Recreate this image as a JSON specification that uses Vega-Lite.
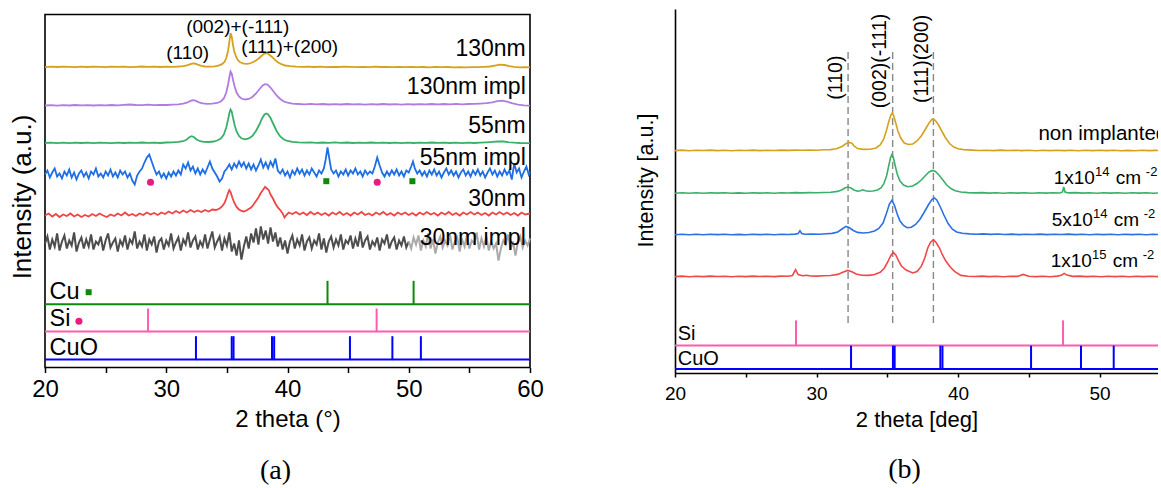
{
"$schema":"https://vega.github.io/schema/vega-lite/v6.json",
"padding":{"left":8,"top":9,"right":0,"bottom":0},
"background":"white",
"config":{"font":"Liberation Sans","view":{"stroke":"#000","strokeWidth":1.6},"axis":{"grid":false,"domainColor":"#000","tickColor":"#000","labelColor":"#000","titleColor":"#000","labelFont":"Liberation Sans","titleFont":"Liberation Sans","titleFontWeight":"normal","domainWidth":1.6,"tickWidth":1.5},"text":{"font":"Liberation Sans","color":"#000"}},
"bounds":"flush","center":true,"spacing":145,
"datasets":{
"a130":[{"x":20,"y":300.4},{"x":20.5,"y":300.8},{"x":21,"y":300.5},{"x":21.5,"y":300.9},{"x":22,"y":300.6},{"x":22.5,"y":300.3},{"x":23,"y":300.8},{"x":23.5,"y":300.5},{"x":24,"y":300.9},{"x":24.5,"y":300.6},{"x":25,"y":300.4},{"x":25.5,"y":300.9},{"x":26,"y":300.6},{"x":26.5,"y":300.8},{"x":27,"y":300.4},{"x":27.5,"y":300.7},{"x":28,"y":301.0},{"x":28.5,"y":300.6},{"x":29,"y":300.8},{"x":29.5,"y":300.5},{"x":30,"y":300.9},{"x":30.5,"y":300.7},{"x":31,"y":301.0},{"x":31.4,"y":301.4},{"x":31.7,"y":302.2},{"x":32.0,"y":303.4},{"x":32.2,"y":304.0},{"x":32.4,"y":303.8},{"x":32.6,"y":302.8},{"x":32.9,"y":301.6},{"x":33.2,"y":301.0},{"x":33.6,"y":300.9},{"x":34.0,"y":301.2},{"x":34.3,"y":301.9},{"x":34.6,"y":303.4},{"x":34.8,"y":305.5},{"x":34.95,"y":309.5},{"x":35.1,"y":317},{"x":35.2,"y":325},{"x":35.3,"y":334.5},{"x":35.4,"y":331},{"x":35.5,"y":323},{"x":35.6,"y":316.5},{"x":35.75,"y":311},{"x":35.9,"y":307.5},{"x":36.1,"y":305.2},{"x":36.4,"y":303.8},{"x":36.7,"y":303.6},{"x":37.0,"y":304.5},{"x":37.3,"y":306.2},{"x":37.6,"y":308.8},{"x":37.85,"y":311.5},{"x":38.05,"y":313.6},{"x":38.25,"y":314.3},{"x":38.45,"y":313.3},{"x":38.7,"y":310.8},{"x":38.95,"y":307.8},{"x":39.2,"y":305.3},{"x":39.5,"y":303.3},{"x":39.8,"y":302.0},{"x":40.2,"y":301.3},{"x":40.7,"y":300.8},{"x":41.2,"y":300.6},{"x":41.7,"y":300.9},{"x":42.2,"y":300.5},{"x":42.7,"y":300.8},{"x":43.2,"y":300.4},{"x":43.7,"y":300.7},{"x":44.2,"y":300.5},{"x":44.7,"y":300.9},{"x":45.2,"y":300.6},{"x":45.7,"y":300.3},{"x":46.2,"y":300.7},{"x":46.7,"y":300.4},{"x":47.2,"y":300.8},{"x":47.7,"y":300.5},{"x":48.2,"y":300.6},{"x":48.7,"y":300.3},{"x":49.2,"y":300.7},{"x":49.7,"y":300.4},{"x":50.2,"y":300.6},{"x":50.7,"y":300.3},{"x":51.2,"y":300.5},{"x":51.7,"y":300.2},{"x":52.2,"y":300.6},{"x":52.7,"y":300.3},{"x":53.2,"y":300.5},{"x":53.7,"y":300.2},{"x":54.2,"y":300.4},{"x":54.7,"y":300.1},{"x":55.2,"y":300.4},{"x":55.7,"y":300.3},{"x":56.2,"y":300.6},{"x":56.7,"y":301.0},{"x":57.1,"y":301.9},{"x":57.5,"y":302.8},{"x":57.9,"y":302.5},{"x":58.3,"y":301.4},{"x":58.7,"y":300.6},{"x":59.2,"y":300.2},{"x":59.6,"y":300.4},{"x":60,"y":300.1}],
"a130i":[{"x":20,"y":262.0},{"x":20.5,"y":262.4},{"x":21,"y":261.9},{"x":21.5,"y":262.3},{"x":22,"y":262.0},{"x":22.5,"y":262.5},{"x":23,"y":262.1},{"x":23.5,"y":262.4},{"x":24,"y":262.0},{"x":24.5,"y":262.3},{"x":25,"y":262.1},{"x":25.5,"y":262.5},{"x":26,"y":262.2},{"x":26.5,"y":262.7},{"x":27,"y":263.0},{"x":27.5,"y":262.5},{"x":28,"y":262.3},{"x":28.5,"y":262.8},{"x":29,"y":262.4},{"x":29.5,"y":262.7},{"x":30,"y":262.5},{"x":30.5,"y":262.8},{"x":31,"y":263.2},{"x":31.4,"y":263.8},{"x":31.7,"y":264.8},{"x":32.0,"y":266.6},{"x":32.2,"y":267.3},{"x":32.4,"y":266.8},{"x":32.7,"y":265.2},{"x":33.0,"y":264.1},{"x":33.4,"y":263.6},{"x":33.8,"y":263.8},{"x":34.2,"y":264.5},{"x":34.5,"y":266},{"x":34.75,"y":269},{"x":34.95,"y":275},{"x":35.1,"y":283},{"x":35.2,"y":290},{"x":35.3,"y":296},{"x":35.4,"y":294},{"x":35.5,"y":288},{"x":35.65,"y":280.5},{"x":35.8,"y":275},{"x":36.0,"y":271},{"x":36.2,"y":269},{"x":36.5,"y":268},{"x":36.8,"y":268.5},{"x":37.1,"y":270.5},{"x":37.4,"y":274},{"x":37.7,"y":278.5},{"x":37.95,"y":282},{"x":38.15,"y":283.3},{"x":38.35,"y":282.8},{"x":38.6,"y":280},{"x":38.85,"y":276},{"x":39.1,"y":272},{"x":39.4,"y":268.5},{"x":39.7,"y":266},{"x":40.0,"y":264.8},{"x":40.4,"y":263.9},{"x":40.9,"y":263.5},{"x":41.4,"y":263.2},{"x":41.9,"y":263.6},{"x":42.4,"y":263.1},{"x":42.9,"y":263.5},{"x":43.4,"y":263.0},{"x":43.9,"y":263.4},{"x":44.4,"y":263.0},{"x":44.9,"y":263.5},{"x":45.4,"y":263.1},{"x":45.9,"y":263.4},{"x":46.4,"y":262.9},{"x":46.9,"y":263.4},{"x":47.4,"y":263.0},{"x":47.9,"y":263.5},{"x":48.4,"y":263.0},{"x":48.9,"y":263.3},{"x":49.4,"y":262.9},{"x":49.9,"y":263.3},{"x":50.4,"y":263.0},{"x":50.9,"y":263.4},{"x":51.4,"y":263.1},{"x":51.9,"y":263.5},{"x":52.4,"y":263.1},{"x":52.9,"y":263.5},{"x":53.4,"y":263.2},{"x":53.9,"y":263.6},{"x":54.4,"y":263.2},{"x":54.9,"y":263.5},{"x":55.4,"y":263.6},{"x":55.9,"y":263.9},{"x":56.4,"y":264.3},{"x":56.9,"y":265.2},{"x":57.3,"y":266.4},{"x":57.7,"y":266.8},{"x":58.1,"y":265.8},{"x":58.5,"y":264.3},{"x":59.0,"y":262.9},{"x":59.5,"y":262.2},{"x":60,"y":261.9}],
"a55":[{"x":20,"y":224.5},{"x":20.5,"y":224.9},{"x":21,"y":224.4},{"x":21.5,"y":224.8},{"x":22,"y":224.3},{"x":22.5,"y":224.9},{"x":23,"y":224.5},{"x":23.5,"y":224.8},{"x":24,"y":224.4},{"x":24.5,"y":224.9},{"x":25,"y":224.6},{"x":25.5,"y":224.3},{"x":26,"y":224.8},{"x":26.5,"y":224.5},{"x":27,"y":224.9},{"x":27.5,"y":224.6},{"x":28,"y":225.0},{"x":28.5,"y":224.6},{"x":29,"y":224.9},{"x":29.5,"y":224.5},{"x":30,"y":225.0},{"x":30.5,"y":225.2},{"x":31,"y":225.6},{"x":31.4,"y":226.3},{"x":31.7,"y":228},{"x":31.9,"y":230.3},{"x":32.1,"y":231.3},{"x":32.3,"y":230.2},{"x":32.5,"y":228},{"x":32.8,"y":226.3},{"x":33.1,"y":225.6},{"x":33.5,"y":225.5},{"x":33.9,"y":226.0},{"x":34.2,"y":227},{"x":34.5,"y":229},{"x":34.75,"y":233},{"x":34.95,"y":240},{"x":35.1,"y":248},{"x":35.2,"y":254},{"x":35.3,"y":258},{"x":35.4,"y":256},{"x":35.5,"y":250},{"x":35.65,"y":242},{"x":35.8,"y":236},{"x":36.0,"y":231.5},{"x":36.2,"y":229.2},{"x":36.5,"y":228.2},{"x":36.8,"y":229},{"x":37.1,"y":231.5},{"x":37.4,"y":236.5},{"x":37.7,"y":243.5},{"x":37.9,"y":249},{"x":38.1,"y":253},{"x":38.25,"y":254},{"x":38.4,"y":253},{"x":38.6,"y":249.5},{"x":38.85,"y":243},{"x":39.1,"y":236.5},{"x":39.4,"y":231},{"x":39.7,"y":228},{"x":40.0,"y":226.5},{"x":40.4,"y":225.6},{"x":40.9,"y":225.1},{"x":41.4,"y":224.8},{"x":41.9,"y":225.2},{"x":42.4,"y":224.7},{"x":42.9,"y":225.0},{"x":43.4,"y":224.6},{"x":43.9,"y":225.1},{"x":44.4,"y":224.7},{"x":44.9,"y":225.0},{"x":45.4,"y":224.5},{"x":45.9,"y":224.9},{"x":46.4,"y":224.6},{"x":46.9,"y":225.0},{"x":47.4,"y":224.6},{"x":47.9,"y":224.9},{"x":48.4,"y":224.5},{"x":48.9,"y":224.8},{"x":49.4,"y":224.4},{"x":49.9,"y":224.8},{"x":50.4,"y":224.5},{"x":50.9,"y":224.9},{"x":51.4,"y":224.6},{"x":51.9,"y":225.0},{"x":52.4,"y":224.6},{"x":52.9,"y":224.9},{"x":53.4,"y":224.5},{"x":53.9,"y":224.8},{"x":54.4,"y":224.4},{"x":54.9,"y":224.8},{"x":55.4,"y":224.5},{"x":55.9,"y":224.9},{"x":56.4,"y":225.2},{"x":56.9,"y":225.6},{"x":57.4,"y":226.0},{"x":57.8,"y":226.0},{"x":58.2,"y":225.4},{"x":58.7,"y":224.8},{"x":59.2,"y":224.5},{"x":60,"y":224.3}],
"a55i":[{"x":20.0,"y":193},{"x":20.2,"y":197},{"x":20.4,"y":190},{"x":20.6,"y":195},{"x":20.8,"y":199},{"x":21.0,"y":191},{"x":21.2,"y":194},{"x":21.4,"y":189},{"x":21.6,"y":196},{"x":21.8,"y":192},{"x":22.0,"y":198},{"x":22.2,"y":190},{"x":22.4,"y":195},{"x":22.6,"y":188},{"x":22.8,"y":194},{"x":23.0,"y":197},{"x":23.2,"y":191},{"x":23.4,"y":195},{"x":23.6,"y":189},{"x":23.8,"y":196},{"x":24.0,"y":193},{"x":24.2,"y":199},{"x":24.4,"y":191},{"x":24.6,"y":194},{"x":24.8,"y":190},{"x":25.0,"y":196},{"x":25.2,"y":192},{"x":25.4,"y":198},{"x":25.6,"y":191},{"x":25.8,"y":195},{"x":26.0,"y":190},{"x":26.2,"y":197},{"x":26.4,"y":193},{"x":26.6,"y":196},{"x":26.8,"y":190},{"x":27.0,"y":194},{"x":27.2,"y":187},{"x":27.4,"y":183},{"x":27.6,"y":192},{"x":27.8,"y":196},{"x":28.0,"y":199},{"x":28.2,"y":205},{"x":28.4,"y":210},{"x":28.6,"y":213},{"x":28.8,"y":206},{"x":29.0,"y":199},{"x":29.2,"y":193},{"x":29.4,"y":196},{"x":29.6,"y":190},{"x":29.8,"y":194},{"x":30.0,"y":189},{"x":30.2,"y":195},{"x":30.4,"y":191},{"x":30.6,"y":196},{"x":30.8,"y":192},{"x":31.0,"y":197},{"x":31.2,"y":193},{"x":31.4,"y":203},{"x":31.6,"y":199},{"x":31.8,"y":205},{"x":32.0,"y":197},{"x":32.2,"y":201},{"x":32.4,"y":194},{"x":32.6,"y":199},{"x":32.8,"y":193},{"x":33.0,"y":198},{"x":33.2,"y":194},{"x":33.4,"y":200},{"x":33.6,"y":206},{"x":33.8,"y":199},{"x":34.0,"y":195},{"x":34.2,"y":191},{"x":34.4,"y":186},{"x":34.6,"y":189},{"x":34.8,"y":196},{"x":35.0,"y":199},{"x":35.2,"y":203},{"x":35.4,"y":198},{"x":35.6,"y":204},{"x":35.8,"y":200},{"x":36.0,"y":206},{"x":36.2,"y":201},{"x":36.4,"y":205},{"x":36.6,"y":199},{"x":36.8,"y":204},{"x":37.0,"y":198},{"x":37.2,"y":203},{"x":37.4,"y":197},{"x":37.6,"y":202},{"x":37.8,"y":208},{"x":38.0,"y":200},{"x":38.2,"y":205},{"x":38.4,"y":199},{"x":38.6,"y":206},{"x":38.8,"y":201},{"x":39.0,"y":209},{"x":39.2,"y":197},{"x":39.4,"y":194},{"x":39.6,"y":198},{"x":39.8,"y":192},{"x":40.0,"y":196},{"x":40.2,"y":190},{"x":40.4,"y":197},{"x":40.6,"y":193},{"x":40.8,"y":199},{"x":41.0,"y":194},{"x":41.2,"y":198},{"x":41.4,"y":192},{"x":41.6,"y":197},{"x":41.8,"y":193},{"x":42.0,"y":199},{"x":42.2,"y":195},{"x":42.4,"y":191},{"x":42.6,"y":197},{"x":42.8,"y":194},{"x":43.0,"y":199},{"x":43.15,"y":208},{"x":43.3,"y":220},{"x":43.45,"y":209},{"x":43.6,"y":198},{"x":43.8,"y":194},{"x":44.0,"y":197},{"x":44.2,"y":191},{"x":44.4,"y":196},{"x":44.6,"y":193},{"x":44.8,"y":198},{"x":45.0,"y":192},{"x":45.2,"y":197},{"x":45.4,"y":194},{"x":45.6,"y":199},{"x":45.8,"y":193},{"x":46.0,"y":196},{"x":46.2,"y":191},{"x":46.4,"y":197},{"x":46.6,"y":193},{"x":46.8,"y":196},{"x":47.0,"y":194},{"x":47.2,"y":201},{"x":47.4,"y":210},{"x":47.6,"y":202},{"x":47.8,"y":195},{"x":48.0,"y":191},{"x":48.2,"y":196},{"x":48.4,"y":192},{"x":48.6,"y":197},{"x":48.8,"y":193},{"x":49.0,"y":198},{"x":49.2,"y":192},{"x":49.4,"y":196},{"x":49.6,"y":191},{"x":49.8,"y":197},{"x":50.0,"y":195},{"x":50.2,"y":201},{"x":50.35,"y":206},{"x":50.5,"y":199},{"x":50.7,"y":194},{"x":50.9,"y":197},{"x":51.1,"y":192},{"x":51.3,"y":196},{"x":51.5,"y":191},{"x":51.7,"y":197},{"x":51.9,"y":193},{"x":52.1,"y":198},{"x":52.3,"y":192},{"x":52.5,"y":196},{"x":52.7,"y":190},{"x":52.9,"y":195},{"x":53.1,"y":199},{"x":53.3,"y":193},{"x":53.5,"y":197},{"x":53.7,"y":192},{"x":53.9,"y":196},{"x":54.1,"y":190},{"x":54.3,"y":195},{"x":54.5,"y":198},{"x":54.7,"y":192},{"x":54.9,"y":196},{"x":55.1,"y":191},{"x":55.3,"y":197},{"x":55.5,"y":193},{"x":55.7,"y":198},{"x":55.9,"y":192},{"x":56.1,"y":196},{"x":56.3,"y":190},{"x":56.5,"y":195},{"x":56.7,"y":199},{"x":56.9,"y":193},{"x":57.1,"y":197},{"x":57.3,"y":191},{"x":57.5,"y":196},{"x":57.7,"y":192},{"x":57.9,"y":198},{"x":58.1,"y":193},{"x":58.3,"y":197},{"x":58.5,"y":188},{"x":58.7,"y":204},{"x":58.9,"y":195},{"x":59.1,"y":199},{"x":59.3,"y":190},{"x":59.5,"y":196},{"x":59.7,"y":201},{"x":59.9,"y":193},{"x":60.0,"y":196}],
"a30":[{"x":20,"y":152},{"x":20.3,"y":154},{"x":20.6,"y":151},{"x":20.9,"y":153.5},{"x":21.2,"y":150.5},{"x":21.5,"y":153},{"x":21.8,"y":151.5},{"x":22.1,"y":154},{"x":22.4,"y":151},{"x":22.7,"y":153},{"x":23.0,"y":150.5},{"x":23.3,"y":152.5},{"x":23.6,"y":151},{"x":23.9,"y":153.5},{"x":24.2,"y":151.5},{"x":24.5,"y":154},{"x":24.8,"y":152},{"x":25.1,"y":150.5},{"x":25.4,"y":153},{"x":25.7,"y":151.5},{"x":26.0,"y":154},{"x":26.3,"y":152},{"x":26.6,"y":155},{"x":26.9,"y":152},{"x":27.2,"y":153.5},{"x":27.5,"y":151.5},{"x":27.8,"y":154},{"x":28.1,"y":152.5},{"x":28.4,"y":155},{"x":28.7,"y":153},{"x":29.0,"y":154.5},{"x":29.3,"y":152.5},{"x":29.6,"y":155},{"x":29.9,"y":153.5},{"x":30.2,"y":156},{"x":30.5,"y":154},{"x":30.8,"y":156.5},{"x":31.1,"y":154.5},{"x":31.4,"y":157},{"x":31.7,"y":155},{"x":32.0,"y":157.5},{"x":32.3,"y":155.5},{"x":32.6,"y":157},{"x":32.9,"y":155.5},{"x":33.2,"y":157.5},{"x":33.5,"y":156},{"x":33.8,"y":158},{"x":34.1,"y":157.5},{"x":34.4,"y":159},{"x":34.6,"y":161},{"x":34.8,"y":164.5},{"x":34.95,"y":169},{"x":35.1,"y":174.5},{"x":35.2,"y":177.3},{"x":35.3,"y":175.5},{"x":35.45,"y":170},{"x":35.6,"y":165},{"x":35.8,"y":160.5},{"x":36.0,"y":158},{"x":36.2,"y":156.5},{"x":36.4,"y":156},{"x":36.6,"y":157},{"x":36.8,"y":158.5},{"x":37.0,"y":160},{"x":37.2,"y":163},{"x":37.4,"y":166.5},{"x":37.6,"y":170},{"x":37.8,"y":174.5},{"x":38.0,"y":178},{"x":38.15,"y":180.7},{"x":38.3,"y":179},{"x":38.45,"y":177.5},{"x":38.6,"y":173},{"x":38.8,"y":169},{"x":39.0,"y":164},{"x":39.2,"y":160},{"x":39.4,"y":157.5},{"x":39.6,"y":154},{"x":39.75,"y":150},{"x":39.9,"y":152.5},{"x":40.1,"y":155},{"x":40.4,"y":153.5},{"x":40.7,"y":155.5},{"x":41.0,"y":153},{"x":41.3,"y":155},{"x":41.6,"y":152.5},{"x":41.9,"y":155.5},{"x":42.2,"y":153},{"x":42.5,"y":155},{"x":42.8,"y":152.5},{"x":43.1,"y":154.5},{"x":43.4,"y":152},{"x":43.7,"y":155},{"x":44.0,"y":153},{"x":44.3,"y":155.5},{"x":44.6,"y":152.5},{"x":44.9,"y":154.5},{"x":45.2,"y":152},{"x":45.5,"y":155},{"x":45.8,"y":153},{"x":46.1,"y":155.5},{"x":46.4,"y":152.5},{"x":46.7,"y":154},{"x":47.0,"y":152},{"x":47.3,"y":155},{"x":47.6,"y":153},{"x":47.9,"y":155.5},{"x":48.2,"y":152.5},{"x":48.5,"y":154.5},{"x":48.8,"y":152},{"x":49.1,"y":155},{"x":49.4,"y":153},{"x":49.7,"y":155},{"x":50.0,"y":152.5},{"x":50.3,"y":154.5},{"x":50.6,"y":152},{"x":50.9,"y":155},{"x":51.2,"y":153},{"x":51.5,"y":155.5},{"x":51.8,"y":153},{"x":52.1,"y":154.5},{"x":52.4,"y":152},{"x":52.7,"y":155},{"x":53.0,"y":153},{"x":53.3,"y":155.5},{"x":53.6,"y":152.5},{"x":53.9,"y":154.5},{"x":54.2,"y":152},{"x":54.5,"y":155},{"x":54.8,"y":153},{"x":55.1,"y":155.5},{"x":55.4,"y":153},{"x":55.7,"y":155},{"x":56.0,"y":152.5},{"x":56.3,"y":154.5},{"x":56.6,"y":152},{"x":56.9,"y":155},{"x":57.2,"y":153},{"x":57.5,"y":155.5},{"x":57.8,"y":153},{"x":58.1,"y":155},{"x":58.4,"y":152.5},{"x":58.7,"y":154.5},{"x":59.0,"y":152},{"x":59.3,"y":155},{"x":59.6,"y":153},{"x":60,"y":154}],
"a30i":[{"x":20.0,"y":124},{"x":20.2,"y":131},{"x":20.4,"y":118},{"x":20.6,"y":128},{"x":20.8,"y":121},{"x":21.0,"y":134},{"x":21.2,"y":117},{"x":21.4,"y":126},{"x":21.6,"y":132},{"x":21.8,"y":119},{"x":22.0,"y":127},{"x":22.2,"y":122},{"x":22.4,"y":135},{"x":22.6,"y":116},{"x":22.8,"y":125},{"x":23.0,"y":130},{"x":23.2,"y":119},{"x":23.4,"y":128},{"x":23.6,"y":121},{"x":23.8,"y":133},{"x":24.0,"y":118},{"x":24.2,"y":126},{"x":24.4,"y":123},{"x":24.6,"y":131},{"x":24.8,"y":117},{"x":25.0,"y":127},{"x":25.2,"y":134},{"x":25.4,"y":120},{"x":25.6,"y":125},{"x":25.8,"y":129},{"x":26.0,"y":116},{"x":26.2,"y":127},{"x":26.4,"y":122},{"x":26.6,"y":132},{"x":26.8,"y":118},{"x":27.0,"y":128},{"x":27.2,"y":124},{"x":27.4,"y":136},{"x":27.6,"y":119},{"x":27.8,"y":126},{"x":28.0,"y":121},{"x":28.2,"y":133},{"x":28.4,"y":117},{"x":28.6,"y":128},{"x":28.8,"y":123},{"x":29.0,"y":131},{"x":29.2,"y":115},{"x":29.4,"y":126},{"x":29.6,"y":129},{"x":29.8,"y":118},{"x":30.0,"y":127},{"x":30.2,"y":122},{"x":30.4,"y":134},{"x":30.6,"y":119},{"x":30.8,"y":125},{"x":31.0,"y":130},{"x":31.2,"y":117},{"x":31.4,"y":128},{"x":31.6,"y":123},{"x":31.8,"y":135},{"x":32.0,"y":120},{"x":32.2,"y":127},{"x":32.4,"y":131},{"x":32.6,"y":118},{"x":32.8,"y":126},{"x":33.0,"y":121},{"x":33.2,"y":133},{"x":33.4,"y":119},{"x":33.6,"y":128},{"x":33.8,"y":136},{"x":34.0,"y":120},{"x":34.2,"y":126},{"x":34.4,"y":131},{"x":34.6,"y":117},{"x":34.8,"y":129},{"x":35.0,"y":122},{"x":35.2,"y":135},{"x":35.4,"y":116},{"x":35.6,"y":124},{"x":35.8,"y":112},{"x":36.0,"y":127},{"x":36.2,"y":108},{"x":36.4,"y":121},{"x":36.6,"y":131},{"x":36.8,"y":119},{"x":37.0,"y":134},{"x":37.2,"y":125},{"x":37.4,"y":139},{"x":37.6,"y":123},{"x":37.8,"y":141},{"x":38.0,"y":128},{"x":38.2,"y":137},{"x":38.4,"y":124},{"x":38.6,"y":140},{"x":38.8,"y":126},{"x":39.0,"y":135},{"x":39.2,"y":121},{"x":39.4,"y":130},{"x":39.6,"y":118},{"x":39.8,"y":127},{"x":40.0,"y":114},{"x":40.2,"y":126},{"x":40.4,"y":132},{"x":40.6,"y":119},{"x":40.8,"y":128},{"x":41.0,"y":122},{"x":41.2,"y":133},{"x":41.4,"y":117},{"x":41.6,"y":126},{"x":41.8,"y":130},{"x":42.0,"y":119},{"x":42.2,"y":127},{"x":42.4,"y":123},{"x":42.6,"y":134},{"x":42.8,"y":118},{"x":43.0,"y":129},{"x":43.2,"y":115},{"x":43.4,"y":126},{"x":43.6,"y":131},{"x":43.8,"y":120},{"x":44.0,"y":128},{"x":44.2,"y":122},{"x":44.4,"y":133},{"x":44.6,"y":118},{"x":44.8,"y":127},{"x":45.0,"y":124},{"x":45.2,"y":132},{"x":45.4,"y":119},{"x":45.6,"y":129},{"x":45.8,"y":121},{"x":46.0,"y":136},{"x":46.2,"y":120},{"x":46.4,"y":127},{"x":46.6,"y":131},{"x":46.8,"y":118},{"x":47.0,"y":126},{"x":47.2,"y":122},{"x":47.4,"y":130},{"x":47.6,"y":117},{"x":47.8,"y":128},{"x":48.0,"y":124},{"x":48.2,"y":133},{"x":48.4,"y":119},{"x":48.6,"y":126},{"x":48.8,"y":130},{"x":49.0,"y":118},{"x":49.2,"y":127},{"x":49.4,"y":122},{"x":49.6,"y":131},{"x":49.8,"y":120},{"x":50.0,"y":126}],
"a30iL":[{"x":50.0,"y":126},{"x":50.2,"y":119},{"x":50.4,"y":130},{"x":50.6,"y":123},{"x":50.8,"y":132},{"x":51.0,"y":117},{"x":51.2,"y":127},{"x":51.4,"y":121},{"x":51.6,"y":134},{"x":51.8,"y":119},{"x":52.0,"y":128},{"x":52.2,"y":114},{"x":52.4,"y":125},{"x":52.6,"y":131},{"x":52.8,"y":120},{"x":53.0,"y":127},{"x":53.2,"y":122},{"x":53.4,"y":133},{"x":53.6,"y":118},{"x":53.8,"y":126},{"x":54.0,"y":130},{"x":54.2,"y":116},{"x":54.4,"y":128},{"x":54.6,"y":121},{"x":54.8,"y":132},{"x":55.0,"y":119},{"x":55.2,"y":127},{"x":55.4,"y":124},{"x":55.6,"y":135},{"x":55.8,"y":118},{"x":56.0,"y":129},{"x":56.2,"y":121},{"x":56.4,"y":131},{"x":56.6,"y":117},{"x":56.8,"y":126},{"x":57.0,"y":119},{"x":57.2,"y":124},{"x":57.4,"y":107},{"x":57.6,"y":119},{"x":57.8,"y":127},{"x":58.0,"y":123},{"x":58.2,"y":133},{"x":58.4,"y":118},{"x":58.6,"y":126},{"x":58.8,"y":112},{"x":59.0,"y":125},{"x":59.2,"y":131},{"x":59.4,"y":120},{"x":59.6,"y":127},{"x":59.8,"y":122},{"x":60.0,"y":129}],
"aStk":[{"s":"Cu","x":20,"x2":60,"y":63.3,"y2":63.3},{"s":"Cu","x":43.3,"x2":43.3,"y":63.3,"y2":86.7},{"s":"Cu","x":50.4,"x2":50.4,"y":63.3,"y2":86.7},{"s":"Si","x":20,"x2":60,"y":36,"y2":36},{"s":"Si","x":28.5,"x2":28.5,"y":36,"y2":59},{"s":"Si","x":47.35,"x2":47.35,"y":36,"y2":59},{"s":"CuO","x":20,"x2":60,"y":8,"y2":8},{"s":"CuO","x":32.45,"x2":32.45,"y":8,"y2":31.3},{"s":"CuO","x":35.4,"x2":35.4,"y":8,"y2":31.3},{"s":"CuO","x":35.55,"x2":35.55,"y":8,"y2":31.3},{"s":"CuO","x":38.72,"x2":38.72,"y":8,"y2":31.3},{"s":"CuO","x":38.9,"x2":38.9,"y":8,"y2":31.3},{"s":"CuO","x":45.15,"x2":45.15,"y":8,"y2":31.3},{"s":"CuO","x":48.65,"x2":48.65,"y":8,"y2":31.3},{"s":"CuO","x":51.0,"x2":51.0,"y":8,"y2":31.3}],
"aSq":[{"x":43.2,"y":186.3},{"x":50.3,"y":186.3},{"x":23.6,"y":75.3}],
"aCi":[{"x":28.7,"y":185.3},{"x":47.4,"y":185.3},{"x":22.8,"y":46.3}],
"aLab":[{"x":59.65,"y":312,"t":"130nm"},{"x":59.65,"y":274,"t":"130nm impl"},{"x":59.65,"y":235,"t":"55nm"},{"x":59.65,"y":203,"t":"55nm impl"},{"x":59.65,"y":162,"t":"30nm"},{"x":59.65,"y":123,"t":"30nm impl"}],
"aEl":[{"x":20.38,"y":69,"t":"Cu"},{"x":20.38,"y":41.3,"t":"Si"},{"x":20.38,"y":13,"t":"CuO"}],
"aAnn":[{"x":31.77,"y":309,"t":"(110)"},{"x":35.9,"y":335,"t":"(002)+(-111)"},{"x":40.18,"y":315,"t":"(111)+(200)"}],
"bNon":[{"x":20,"y":222.4},{"x":20.5,"y":222.9},{"x":21,"y":222.3},{"x":21.5,"y":222.8},{"x":22,"y":222.5},{"x":22.5,"y":222.9},{"x":23,"y":222.4},{"x":23.5,"y":222.7},{"x":24,"y":222.3},{"x":24.5,"y":222.8},{"x":25,"y":222.5},{"x":25.5,"y":222.9},{"x":26,"y":222.4},{"x":26.5,"y":222.8},{"x":27,"y":222.5},{"x":27.5,"y":222.9},{"x":28,"y":222.6},{"x":28.5,"y":222.9},{"x":29,"y":222.7},{"x":29.5,"y":223.0},{"x":30,"y":222.8},{"x":30.5,"y":223.2},{"x":31,"y":223.4},{"x":31.4,"y":224.2},{"x":31.8,"y":226.5},{"x":32.1,"y":229.5},{"x":32.3,"y":230.6},{"x":32.5,"y":229.8},{"x":32.65,"y":227},{"x":32.9,"y":224.4},{"x":33.3,"y":223.6},{"x":33.8,"y":223.8},{"x":34.2,"y":225},{"x":34.5,"y":228},{"x":34.75,"y":234},{"x":34.95,"y":243},{"x":35.1,"y":251},{"x":35.25,"y":258},{"x":35.35,"y":260},{"x":35.45,"y":257.5},{"x":35.6,"y":250},{"x":35.75,"y":242},{"x":35.95,"y":235},{"x":36.2,"y":230},{"x":36.5,"y":228.5},{"x":36.8,"y":229},{"x":37.1,"y":232},{"x":37.4,"y":237},{"x":37.7,"y":244},{"x":37.95,"y":250},{"x":38.15,"y":253.5},{"x":38.25,"y":254},{"x":38.4,"y":252.5},{"x":38.6,"y":248.5},{"x":38.85,"y":242},{"x":39.1,"y":235.5},{"x":39.4,"y":229.5},{"x":39.7,"y":226},{"x":40.0,"y":224.3},{"x":40.4,"y":223.4},{"x":41,"y":222.9},{"x":41.5,"y":222.5},{"x":42,"y":222.8},{"x":42.5,"y":222.4},{"x":43,"y":222.9},{"x":43.5,"y":222.5},{"x":44,"y":222.8},{"x":44.5,"y":222.4},{"x":45,"y":222.7},{"x":45.5,"y":222.3},{"x":46,"y":222.8},{"x":46.5,"y":222.4},{"x":47,"y":222.7},{"x":47.5,"y":222.4},{"x":48,"y":222.8},{"x":48.5,"y":222.3},{"x":49,"y":222.7},{"x":49.5,"y":222.4},{"x":50,"y":222.8},{"x":50.5,"y":222.4},{"x":51,"y":222.7},{"x":51.5,"y":222.3},{"x":52,"y":222.6},{"x":52.5,"y":222.3},{"x":53,"y":222.7},{"x":53.5,"y":222.4},{"x":54,"y":222.6},{"x":54.5,"y":222.4}],
"b14":[{"x":20,"y":179.8},{"x":20.5,"y":180.3},{"x":21,"y":179.7},{"x":21.5,"y":180.2},{"x":22,"y":179.8},{"x":22.5,"y":180.3},{"x":23,"y":179.9},{"x":23.5,"y":180.2},{"x":24,"y":179.7},{"x":24.5,"y":180.1},{"x":25,"y":179.8},{"x":25.5,"y":180.3},{"x":26,"y":179.9},{"x":26.5,"y":180.2},{"x":27,"y":179.8},{"x":27.5,"y":180.3},{"x":28,"y":180.0},{"x":28.5,"y":180.4},{"x":29,"y":180.1},{"x":29.5,"y":180.4},{"x":30,"y":180.2},{"x":30.5,"y":180.5},{"x":31,"y":180.8},{"x":31.5,"y":181.6},{"x":31.8,"y":183.2},{"x":32.0,"y":185},{"x":32.2,"y":186},{"x":32.4,"y":185.2},{"x":32.65,"y":183},{"x":32.9,"y":181.8},{"x":33.1,"y":182.3},{"x":33.27,"y":183.2},{"x":33.45,"y":182.3},{"x":33.7,"y":181.8},{"x":34.0,"y":182},{"x":34.3,"y":183},{"x":34.55,"y":185},{"x":34.75,"y":189},{"x":34.95,"y":197},{"x":35.1,"y":207},{"x":35.22,"y":215},{"x":35.32,"y":218.3},{"x":35.42,"y":216},{"x":35.55,"y":208},{"x":35.7,"y":199},{"x":35.9,"y":192},{"x":36.15,"y":188},{"x":36.45,"y":186.3},{"x":36.8,"y":187},{"x":37.1,"y":189.5},{"x":37.4,"y":193},{"x":37.7,"y":197.5},{"x":37.95,"y":201},{"x":38.2,"y":202.6},{"x":38.4,"y":201.5},{"x":38.65,"y":198},{"x":38.9,"y":193.5},{"x":39.2,"y":188},{"x":39.5,"y":184.5},{"x":39.8,"y":182.3},{"x":40.2,"y":181},{"x":40.7,"y":180.4},{"x":41.2,"y":180.1},{"x":41.7,"y":180.4},{"x":42.2,"y":179.9},{"x":42.7,"y":180.3},{"x":43.2,"y":179.8},{"x":43.7,"y":180.2},{"x":44.2,"y":179.9},{"x":44.7,"y":180.3},{"x":45.2,"y":179.8},{"x":45.7,"y":180.2},{"x":46.2,"y":179.9},{"x":46.7,"y":180.3},{"x":47.2,"y":180.0},{"x":47.38,"y":181},{"x":47.47,"y":186},{"x":47.56,"y":181},{"x":47.8,"y":180.1},{"x":48.3,"y":180.4},{"x":48.8,"y":179.9},{"x":49.3,"y":180.2},{"x":49.8,"y":179.8},{"x":50.3,"y":180.3},{"x":50.8,"y":179.9},{"x":51.3,"y":180.2},{"x":51.8,"y":179.8},{"x":52.3,"y":180.2},{"x":52.8,"y":179.9},{"x":53.3,"y":180.3},{"x":53.8,"y":179.8},{"x":54.3,"y":180.1},{"x":54.6,"y":179.9}],
"b514":[{"x":20,"y":138.3},{"x":20.5,"y":138.8},{"x":21,"y":138.2},{"x":21.5,"y":138.7},{"x":22,"y":138.3},{"x":22.5,"y":138.8},{"x":23,"y":138.4},{"x":23.5,"y":138.7},{"x":24,"y":138.2},{"x":24.5,"y":138.6},{"x":25,"y":138.3},{"x":25.5,"y":138.8},{"x":26,"y":138.4},{"x":26.5,"y":138.7},{"x":27,"y":138.3},{"x":27.5,"y":138.8},{"x":28,"y":138.5},{"x":28.5,"y":138.9},{"x":28.7,"y":139.5},{"x":28.83,"y":142.3},{"x":28.95,"y":139.5},{"x":29.2,"y":138.8},{"x":29.7,"y":139.0},{"x":30.2,"y":138.8},{"x":30.7,"y":139.2},{"x":31.1,"y":139.6},{"x":31.5,"y":141},{"x":31.8,"y":144},{"x":32.08,"y":146.6},{"x":32.3,"y":145.5},{"x":32.6,"y":142.5},{"x":32.9,"y":140.6},{"x":33.3,"y":140},{"x":33.7,"y":140.5},{"x":34.1,"y":142},{"x":34.4,"y":144.5},{"x":34.7,"y":150},{"x":34.95,"y":160},{"x":35.15,"y":169},{"x":35.33,"y":172.6},{"x":35.5,"y":168},{"x":35.7,"y":159},{"x":35.9,"y":152},{"x":36.15,"y":147.5},{"x":36.4,"y":145.3},{"x":36.7,"y":145.8},{"x":37.0,"y":148.5},{"x":37.3,"y":153.5},{"x":37.6,"y":160.5},{"x":37.9,"y":168},{"x":38.15,"y":173.5},{"x":38.33,"y":175},{"x":38.5,"y":173},{"x":38.75,"y":166},{"x":39.0,"y":158},{"x":39.3,"y":149.5},{"x":39.6,"y":143.8},{"x":39.9,"y":141},{"x":40.3,"y":139.7},{"x":40.8,"y":139.1},{"x":41.3,"y":138.7},{"x":41.8,"y":139.1},{"x":42.3,"y":138.6},{"x":42.8,"y":139.0},{"x":43.3,"y":138.5},{"x":43.8,"y":138.9},{"x":44.3,"y":138.4},{"x":44.8,"y":138.8},{"x":45.3,"y":138.5},{"x":45.8,"y":138.9},{"x":46.3,"y":138.4},{"x":46.8,"y":138.8},{"x":47.3,"y":138.5},{"x":47.8,"y":138.9},{"x":48.3,"y":138.4},{"x":48.8,"y":138.7},{"x":49.3,"y":138.3},{"x":49.8,"y":138.8},{"x":50.3,"y":138.4},{"x":50.8,"y":138.7},{"x":51.3,"y":138.3},{"x":51.8,"y":138.8},{"x":52.3,"y":138.4},{"x":52.8,"y":138.7},{"x":53.3,"y":138.3},{"x":53.8,"y":138.7},{"x":54.3,"y":138.4},{"x":54.6,"y":138.6}],
"b15":[{"x":20,"y":96.4},{"x":20.5,"y":96.9},{"x":21,"y":96.3},{"x":21.5,"y":96.8},{"x":22,"y":96.4},{"x":22.5,"y":96.9},{"x":23,"y":96.5},{"x":23.5,"y":96.8},{"x":24,"y":96.3},{"x":24.5,"y":96.7},{"x":25,"y":96.4},{"x":25.5,"y":96.9},{"x":26,"y":96.5},{"x":26.5,"y":96.8},{"x":27,"y":96.4},{"x":27.5,"y":96.9},{"x":28,"y":96.7},{"x":28.3,"y":97.5},{"x":28.52,"y":103.3},{"x":28.7,"y":98.5},{"x":29.0,"y":97.2},{"x":29.3,"y":97.8},{"x":29.6,"y":97.0},{"x":30,"y":96.9},{"x":30.5,"y":97.2},{"x":31,"y":97.5},{"x":31.5,"y":98.6},{"x":31.9,"y":101},{"x":32.2,"y":102.6},{"x":32.5,"y":101.2},{"x":32.8,"y":99},{"x":33.2,"y":97.8},{"x":33.7,"y":97.6},{"x":34.1,"y":98.5},{"x":34.5,"y":100.8},{"x":34.8,"y":105},{"x":35.05,"y":111.5},{"x":35.25,"y":117.5},{"x":35.43,"y":120.6},{"x":35.6,"y":118},{"x":35.8,"y":112},{"x":36.0,"y":107},{"x":36.33,"y":103},{"x":36.8,"y":100},{"x":37.1,"y":101.5},{"x":37.4,"y":106.6},{"x":37.65,"y":115},{"x":37.86,"y":125},{"x":38.05,"y":130.5},{"x":38.26,"y":133.3},{"x":38.45,"y":130.5},{"x":38.69,"y":125},{"x":38.9,"y":118},{"x":39.15,"y":111.7},{"x":39.45,"y":106},{"x":39.75,"y":101.6},{"x":40.2,"y":97.6},{"x":40.7,"y":96.8},{"x":41.2,"y":96.5},{"x":41.7,"y":96.9},{"x":42.2,"y":96.4},{"x":42.7,"y":96.8},{"x":43.2,"y":96.3},{"x":43.7,"y":96.8},{"x":44.2,"y":96.6},{"x":44.6,"y":98.6},{"x":45.0,"y":96.8},{"x":45.5,"y":96.4},{"x":46,"y":96.8},{"x":46.5,"y":96.3},{"x":47.0,"y":96.9},{"x":47.3,"y":97.8},{"x":47.5,"y":99.6},{"x":47.7,"y":97.9},{"x":48.1,"y":96.6},{"x":48.6,"y":96.9},{"x":49.1,"y":96.4},{"x":49.6,"y":96.8},{"x":50.1,"y":96.3},{"x":50.6,"y":96.7},{"x":51.1,"y":96.4},{"x":51.6,"y":96.8},{"x":52.1,"y":96.3},{"x":52.6,"y":96.7},{"x":53.1,"y":96.4},{"x":53.6,"y":96.8},{"x":54.1,"y":96.4},{"x":54.6,"y":96.6}],
"bStk":[{"s":"Si","x":20,"x2":60,"y":27.6,"y2":27.6},{"s":"Si","x":28.55,"x2":28.55,"y":27.6,"y2":52.6},{"s":"Si","x":47.42,"x2":47.42,"y":27.6,"y2":52.6},{"s":"CuO","x":20,"x2":60,"y":4,"y2":4},{"s":"CuO","x":32.44,"x2":32.44,"y":4,"y2":27.3},{"s":"CuO","x":35.4,"x2":35.4,"y":4,"y2":27.3},{"s":"CuO","x":35.52,"x2":35.52,"y":4,"y2":27.3},{"s":"CuO","x":38.75,"x2":38.75,"y":4,"y2":27.3},{"s":"CuO","x":38.9,"x2":38.9,"y":4,"y2":27.3},{"s":"CuO","x":45.16,"x2":45.16,"y":4,"y2":27.3},{"s":"CuO","x":48.69,"x2":48.69,"y":4,"y2":27.3},{"s":"CuO","x":51.0,"x2":51.0,"y":4,"y2":27.3}],
"bDash":[{"x":32.23,"y":50,"y2":322.3},{"x":35.38,"y":50,"y2":322.3},{"x":38.26,"y":50,"y2":322.3}],
"bRot":[{"x":31.35,"y":273.3,"t":"(110)"},{"x":34.46,"y":264.7,"t":"(002)(-111)"},{"x":37.43,"y":270,"t":"(111)(200)"}],
"bLabBig":[{"x":45.68,"y":232.6,"t":"non implanted"}],
"bLab":[{"x":46.76,"y":189.3,"t":"1x10"},{"x":51.14,"y":189.3,"t":"cm"},{"x":46.62,"y":146.6,"t":"5x10"},{"x":51.0,"y":146.6,"t":"cm"},{"x":46.55,"y":106,"t":"1x10"},{"x":50.93,"y":106,"t":"cm"}],
"bSup":[{"x":49.68,"y":197.3,"t":"14"},{"x":53.27,"y":197.3,"t":"-2"},{"x":49.53,"y":154.6,"t":"14"},{"x":53.12,"y":154.6,"t":"-2"},{"x":49.46,"y":114,"t":"15"},{"x":53.05,"y":114,"t":"-2"}],
"bEl":[{"x":20.19,"y":33.3,"t":"Si"},{"x":20.19,"y":8.3,"t":"CuO"}]
},
"hconcat":[
{
"width":485,"height":353,
"title":{"text":"(a)","orient":"bottom","font":"Liberation Serif","fontSize":28,"fontWeight":"normal","color":"#000","offset":25,"dx":-12},
"encoding":{
"x":{"field":"x","type":"quantitative","scale":{"domain":[20,60],"nice":false,"zero":false},"axis":{"values":[20,25,30,35,40,45,50,55,60],"labelExpr":"datum.value % 10 === 0 ? datum.label : ''","tickSize":5,"labelFontSize":24,"labelPadding":5,"labelFlush":false,"labelOverlap":false,"title":"2 theta (°)","titleFontSize":24,"titlePadding":6,"domain":false}},
"y":{"field":"y","type":"quantitative","scale":{"domain":[0,353],"nice":false,"zero":false},"axis":{"labels":false,"ticks":false,"domain":false,"title":"Intensity (a.u.)","titleFontSize":26,"titlePadding":10,"titleY":182}}
},
"layer":[
{"data":{"name":"a130"},"mark":{"type":"line","color":"#D6A21E","strokeWidth":1.8}},
{"data":{"name":"a130i"},"mark":{"type":"line","color":"#B27BE0","strokeWidth":1.8}},
{"data":{"name":"a55"},"mark":{"type":"line","color":"#38B06A","strokeWidth":1.8}},
{"data":{"name":"a55i"},"mark":{"type":"line","color":"#1E6FE3","strokeWidth":1.8}},
{"data":{"name":"a30"},"mark":{"type":"line","color":"#F04545","strokeWidth":1.8}},
{"data":{"name":"a30i"},"mark":{"type":"line","color":"#4D4D4D","strokeWidth":2}},
{"data":{"name":"a30iL"},"mark":{"type":"line","color":"#AAAAAA","strokeWidth":2}},
{"data":{"name":"aStk"},"mark":{"type":"rule","strokeWidth":2},"encoding":{"x2":{"field":"x2"},"y2":{"field":"y2"},"color":{"field":"s","type":"nominal","scale":{"domain":["Cu","Si","CuO"],"range":["#0B8A0B","#FF5CB0","#0000FF"]},"legend":null}}},
{"data":{"name":"aSq"},"mark":{"type":"square","filled":true,"color":"#0B8A0B","size":36,"opacity":1}},
{"data":{"name":"aCi"},"mark":{"type":"circle","color":"#EC1C7F","size":50,"opacity":1}},
{"data":{"name":"aLab"},"mark":{"type":"text","align":"right","baseline":"alphabetic","fontSize":23},"encoding":{"text":{"field":"t"}}},
{"data":{"name":"aEl"},"mark":{"type":"text","align":"left","baseline":"alphabetic","fontSize":23.5},"encoding":{"text":{"field":"t"}}},
{"data":{"name":"aAnn"},"mark":{"type":"text","align":"center","baseline":"alphabetic","fontSize":19},"encoding":{"text":{"field":"t"}}}
]
},
{
"width":483,"height":364,
"view":{"stroke":null},
"title":{"text":"(b)","orient":"bottom","font":"Liberation Serif","fontSize":28,"fontWeight":"normal","color":"#000","offset":26,"dx":-12},
"encoding":{
"x":{"field":"x","type":"quantitative","scale":{"domain":[20,54.13],"nice":false,"zero":false},"axis":{"values":[20,25,30,35,40,45,50],"labelExpr":"datum.value % 10 === 0 ? datum.label : ''","tickSize":4,"labelFontSize":19,"labelPadding":7,"labelFlush":false,"labelOverlap":false,"title":"2 theta [deg]","titleFontSize":22,"titlePadding":6,"domain":true}},
"y":{"field":"y","type":"quantitative","scale":{"domain":[0,364],"nice":false,"zero":false},"axis":{"labels":false,"ticks":false,"domain":true,"title":"Intensity [a.u.]","titleFontSize":21.5,"titlePadding":18,"titleY":171}}
},
"layer":[
{"data":{"values":[{}]},"mark":{"type":"rule","color":"#000","strokeWidth":1.6},"encoding":{"x":{"datum":20},"x2":{"datum":54.13},"y":{"datum":364}}},
{"data":{"name":"bDash"},"mark":{"type":"rule","color":"#888888","strokeWidth":1.4,"strokeDash":[7,4]},"encoding":{"y2":{"field":"y2"}}},
{"data":{"name":"bNon"},"mark":{"type":"line","color":"#D6A21E","strokeWidth":1.6,"clip":true}},
{"data":{"name":"b14"},"mark":{"type":"line","color":"#38B06A","strokeWidth":1.6,"clip":true}},
{"data":{"name":"b514"},"mark":{"type":"line","color":"#2A72E4","strokeWidth":1.6,"clip":true}},
{"data":{"name":"b15"},"mark":{"type":"line","color":"#F04848","strokeWidth":1.6,"clip":true}},
{"data":{"name":"bStk"},"mark":{"type":"rule","strokeWidth":2,"clip":true},"encoding":{"x2":{"field":"x2"},"y2":{"field":"y2"},"color":{"field":"s","type":"nominal","scale":{"domain":["Cu","Si","CuO"],"range":["#0B8A0B","#FF5CB0","#0000FF"]},"legend":null}}},
{"data":{"name":"bRot"},"mark":{"type":"text","align":"left","baseline":"middle","angle":270,"fontSize":19.5},"encoding":{"text":{"field":"t"}}},
{"data":{"name":"bLabBig"},"mark":{"type":"text","align":"left","baseline":"alphabetic","fontSize":20.5,"clip":true},"encoding":{"text":{"field":"t"}}},
{"data":{"name":"bLab"},"mark":{"type":"text","align":"left","baseline":"alphabetic","fontSize":19,"clip":true},"encoding":{"text":{"field":"t"}}},
{"data":{"name":"bSup"},"mark":{"type":"text","align":"left","baseline":"alphabetic","fontSize":13,"clip":true},"encoding":{"text":{"field":"t"}}},
{"data":{"name":"bEl"},"mark":{"type":"text","align":"left","baseline":"alphabetic","fontSize":20},"encoding":{"text":{"field":"t"}}}
]
}
]
}
